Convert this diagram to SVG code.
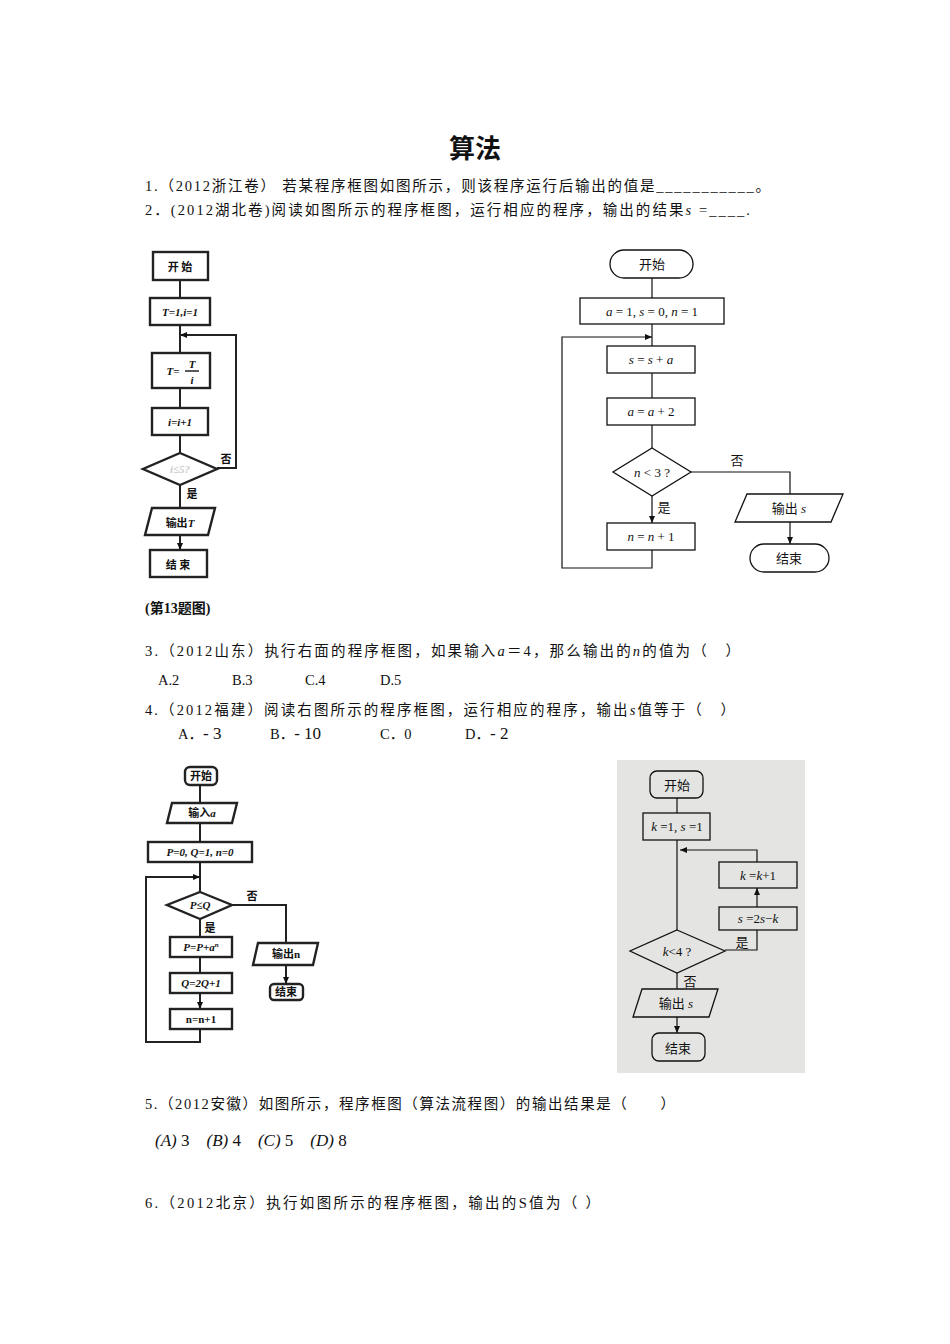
<svg xmlns="http://www.w3.org/2000/svg" width="950" height="1344" viewBox="0 0 950 1344">
<defs>
<marker id="ar" markerWidth="8" markerHeight="8" refX="7" refY="4" orient="auto" markerUnits="userSpaceOnUse"><path d="M0,1 L7,4 L0,7 z" fill="#111"/></marker>
<style>
text{font-family:"Liberation Serif","Noto Sans CJK SC",serif;fill:#111}
.t{font-size:14.5px}
.b{fill:none;stroke:#111;stroke-width:1.3}
.bb{fill:none;stroke:#222;stroke-width:2.4}
.l{fill:none;stroke:#111;stroke-width:1.2}
.lb{fill:none;stroke:#222;stroke-width:2}
.n{font-size:13px;text-anchor:middle}
.s{font-size:11px;text-anchor:middle;font-weight:bold}
.i{font-style:italic}
</style>
</defs>
<rect width="950" height="1344" fill="#fff"/>
<text x="475" y="158" font-size="26" font-weight="bold" text-anchor="middle">算法</text>
<text class="t" x="145" y="191" textLength="625" lengthAdjust="spacing">1.（2012浙江卷） 若某程序框图如图所示，则该程序运行后输出的值是___________。</text>
<text class="t" x="145" y="215" textLength="605" lengthAdjust="spacing">2．(2012湖北卷)阅读如图所示的程序框图，运行相应的程序，输出的结果<tspan class="i">s</tspan> =____.</text>

<!-- flowchart 1 -->
<g id="fc1-connectors">
<path class="lb" d="M180,280 V298 M180,325 V353 M180,388 V408 M180,435 V453 M180,485 V508 M180,535 V550" marker-end="url(#ar)"/>
<path class="lb" d="M217,468 H236 V335 H180" marker-end="url(#ar)"/>
</g>
<g id="fc1-start"><rect class="bb" x="153" y="252" width="55" height="28"/><text class="s" x="180" y="271" font-size="13">开 始</text></g>
<g id="fc1-init"><rect class="bb" x="150" y="298" width="60" height="27"/><text class="s i" x="180" y="316">T=1,i=1</text></g>
<g id="fc1-t"><rect class="bb" x="152" y="353" width="58" height="35"/><text class="s i" x="173" y="375">T=</text><text class="s i" x="192" y="368">T</text><line x1="185" y1="371" x2="199" y2="371" stroke="#222" stroke-width="1.5"/><text class="s i" x="192" y="384">i</text></g>
<g id="fc1-i"><rect class="bb" x="152" y="408" width="56" height="27"/><text class="s i" x="180" y="426">i=i+1</text></g>
<g id="fc1-cond"><polygon class="bb" points="180,453 217,469 180,485 143,469"/><text class="s i" x="180" y="473" style="fill:#ccc">i≤5?</text></g>
<text class="s" x="226" y="463" font-size="13">否</text>
<text class="s" x="192" y="498" font-size="13">是</text>
<g id="fc1-out"><polygon class="bb" points="152,508 215,508 208,535 145,535"/><text class="s" x="180" y="527" font-size="13">输出<tspan class="i">T</tspan></text></g>
<g id="fc1-end"><rect class="bb" x="150" y="550" width="57" height="27"/><text class="s" x="178" y="569" font-size="13">结 束</text></g>
<text x="145" y="613" font-size="14" font-weight="bold">(第13题图)</text>

<!-- flowchart 2 -->
<g id="fc2-connectors">
<path class="l" d="M652,278 V298 M652,324 V346 M652,373 V398 M652,425 V448 M652,496 V523" marker-end="url(#ar)"/>
<path class="l" d="M691,472 H790 V494 M790,522 V544" marker-end="url(#ar)"/>
<path class="l" d="M652,550 V568 H562 V337 H652" marker-end="url(#ar)"/>
</g>
<g id="fc2-start"><rect class="b" x="610" y="250" width="83" height="28" rx="14"/><text class="n" x="652" y="269">开始</text></g>
<g id="fc2-init"><rect class="b" x="580" y="298" width="144" height="26"/><text class="n" x="652" y="316"><tspan class="i">a</tspan> = 1, <tspan class="i">s</tspan> = 0, <tspan class="i">n</tspan> = 1</text></g>
<g id="fc2-s"><rect class="b" x="607" y="346" width="88" height="27"/><text class="n" x="651" y="364"><tspan class="i">s</tspan> = <tspan class="i">s</tspan> + <tspan class="i">a</tspan></text></g>
<g id="fc2-a"><rect class="b" x="607" y="398" width="88" height="27"/><text class="n" x="651" y="416"><tspan class="i">a</tspan> = <tspan class="i">a</tspan> + 2</text></g>
<g id="fc2-cond"><polygon class="b" points="652,448 691,472 652,496 613,472"/><text class="n" x="652" y="477"><tspan class="i">n</tspan> &lt; 3 ?</text></g>
<text class="n" x="737" y="465">否</text>
<text class="n" x="664" y="512">是</text>
<g id="fc2-out"><polygon class="b" points="747,494 843,494 831,522 735,522"/><text class="n" x="789" y="513">输出 <tspan class="i">s</tspan></text></g>
<g id="fc2-end"><rect class="b" x="750" y="544" width="79" height="28" rx="14"/><text class="n" x="789" y="563">结束</text></g>
<g id="fc2-n"><rect class="b" x="607" y="523" width="88" height="27"/><text class="n" x="651" y="541"><tspan class="i">n</tspan> = <tspan class="i">n</tspan> + 1</text></g>

<text class="t" x="145" y="656" textLength="595" lengthAdjust="spacing">3.（2012山东）执行右面的程序框图，如果输入<tspan class="i">a</tspan>＝4，那么输出的<tspan class="i">n</tspan>的值为（　）</text>
<text class="t" x="158" y="685">A.2</text><text class="t" x="232" y="685">B.3</text><text class="t" x="305" y="685">C.4</text><text class="t" x="380" y="685">D.5</text>
<text class="t" x="145" y="715" textLength="590" lengthAdjust="spacing">4.（2012福建）阅读右图所示的程序框图，运行相应的程序，输出<tspan class="i">s</tspan>值等于（　）</text>
<text class="t" x="178" y="739">A．<tspan font-size="17">- 3</tspan></text>
<text class="t" x="270" y="739">B．<tspan font-size="17">- 10</tspan></text>
<text class="t" x="380" y="739">C．0</text>
<text class="t" x="465" y="739">D．<tspan font-size="17">- 2</tspan></text>

<!-- flowchart 3 -->
<g id="fc3-connectors">
<path class="lb" d="M200,785 V803 M200,823 V842 M200,862 V892 M200,919 V937 M200,957 V973 M200,993 V1009" marker-end="url(#ar)"/>
<path class="lb" d="M232,905 H286 V943 M286,965 V984" marker-end="url(#ar)"/>
<path class="lb" d="M200,1029 V1042 H146 V877 H200" marker-end="url(#ar)"/>
</g>
<g id="fc3-start"><rect class="bb" x="185" y="767" width="32" height="18" rx="5"/><text class="s" x="201" y="780">开始</text></g>
<g id="fc3-in"><polygon class="bb" points="172,803 237,803 232,823 167,823"/><text class="s" x="202" y="817">输入<tspan class="i">a</tspan></text></g>
<g id="fc3-init"><rect class="bb" x="148" y="842" width="104" height="20"/><text class="s i" x="200" y="856">P=0, Q=1, n=0</text></g>
<g id="fc3-cond"><polygon class="bb" points="200,892 232,905 200,919 167,905"/><text class="s i" x="200" y="909">P≤Q</text></g>
<text class="s" x="252" y="900" font-size="12">否</text>
<text class="s" x="210" y="932" font-size="12">是</text>
<g id="fc3-p"><rect class="bb" x="170" y="937" width="62" height="20"/><text class="s i" x="201" y="951">P=P+a<tspan font-size="7" dy="-4">n</tspan></text></g>
<g id="fc3-q"><rect class="bb" x="170" y="973" width="62" height="20"/><text class="s i" x="201" y="987">Q=2Q+1</text></g>
<g id="fc3-n"><rect class="bb" x="170" y="1009" width="62" height="20"/><text class="s" x="201" y="1023">n=n+1</text></g>
<g id="fc3-out"><polygon class="bb" points="258,943 318,943 313,965 253,965"/><text class="s" x="286" y="958">输出n</text></g>
<g id="fc3-end"><rect class="bb" x="270" y="984" width="33" height="16" rx="4"/><text class="s" x="286" y="996">结束</text></g>

<!-- flowchart 4 -->
<rect x="617" y="760" width="188" height="313" fill="#e4e4e2"/>
<g id="fc4-connectors">
<path class="l" d="M677,798 V813 M677,840 V930 M677,973 V989 M677,1017 V1033" marker-end="url(#ar)"/>
<path class="l" d="M725,950 H757 V930 M757,907 V888" marker-end="url(#ar)"/>
<path class="l" d="M757,862 V850 H680" marker-end="url(#ar)"/>
</g>
<g id="fc4-start"><rect class="b" x="650" y="771" width="53" height="27" rx="7"/><text class="n" x="677" y="790" font-size="14">开始</text></g>
<g id="fc4-init"><rect class="b" x="643" y="813" width="67" height="27"/><text class="n" x="677" y="831"><tspan class="i">k</tspan> =1, <tspan class="i">s</tspan> =1</text></g>
<g id="fc4-k"><rect class="b" x="719" y="862" width="78" height="26"/><text class="n" x="758" y="880"><tspan class="i">k</tspan> =<tspan class="i">k</tspan>+1</text></g>
<g id="fc4-s"><rect class="b" x="719" y="907" width="78" height="23"/><text class="n" x="758" y="923"><tspan class="i">s</tspan> =2<tspan class="i">s</tspan>−<tspan class="i">k</tspan></text></g>
<g id="fc4-cond"><polygon class="b" points="677,930 725,951 677,973 630,951"/><text class="n" x="677" y="956"><tspan class="i">k</tspan>&lt;4 ?</text></g>
<text class="n" x="742" y="947">是</text>
<text class="n" x="690" y="986">否</text>
<g id="fc4-out"><polygon class="b" points="642,989 718,989 709,1017 633,1017"/><text class="n" x="676" y="1008">输出 <tspan class="i">s</tspan></text></g>
<g id="fc4-end"><rect class="b" x="652" y="1033" width="53" height="28" rx="7"/><text class="n" x="678" y="1053" font-size="14">结束</text></g>

<text class="t" x="145" y="1109" textLength="530" lengthAdjust="spacing">5.（2012安徽）如图所示，程序框图（算法流程图）的输出结果是（　　）</text>
<text x="155" y="1146" font-size="17"><tspan class="i">(A)</tspan> 3　<tspan class="i">(B)</tspan> 4　<tspan class="i">(C)</tspan> 5　<tspan class="i">(D)</tspan> 8</text>
<text class="t" x="145" y="1208" textLength="455" lengthAdjust="spacing">6.（2012北京）执行如图所示的程序框图，输出的S值为（ ）</text>
</svg>
